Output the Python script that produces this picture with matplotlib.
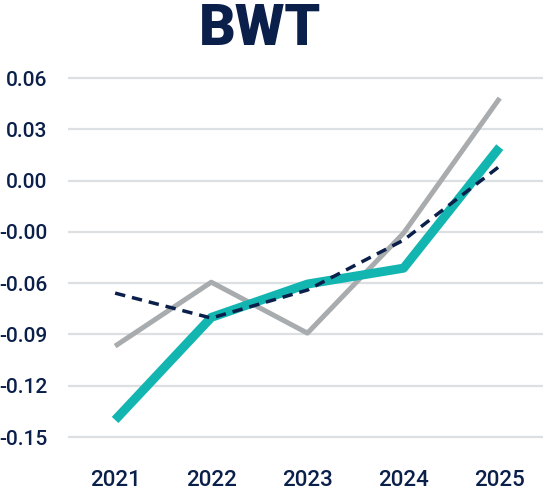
import matplotlib
matplotlib.use("Agg")
import matplotlib.pyplot as plt

years = [2021, 2022, 2023, 2024, 2025]
teal_vals = [-0.140, -0.080, -0.0605, -0.0512, 0.0196]
gray_vals = [-0.0968, -0.0594, -0.0892, -0.0307, 0.0483]
dash_vals = [-0.0658, -0.0804, -0.064, -0.0348, 0.0085]
y_ticks = [0.06, 0.03, 0.00, -0.03, -0.06, -0.09, -0.12, -0.15]
y_labels = ["0.06", "0.03", "0.00", "-0.00", "-0.06", "-0.09", "-0.12", "-0.15"]

NAVY = "#0b1f4b"
TEAL = "#13b5b1"
GRAY = "#a9acae"
GRID = "#dde0e3"

plt.rcParams["font.family"] = ["Roboto", "DejaVu Sans"]

fig = plt.figure(figsize=(5.43, 4.92), dpi=100)
ax = fig.add_axes([68 / 543, 0.1065, 1 - 68 / 543, 0.740])

ax.plot(years, gray_vals, color=GRAY, lw=3.6, solid_capstyle="butt", zorder=3)
ax.plot(years, teal_vals, color=TEAL, lw=6.5, solid_capstyle="butt", zorder=4)
ax.plot(years, dash_vals, color=NAVY, lw=2.5, dashes=(3, 2), zorder=5)

ax.set_xlim(2020.51, 2025.45)
ax.set_ylim(-0.1515, 0.0615)
ax.set_xticks(years)
ax.set_yticks(y_ticks)
ax.set_yticklabels(y_labels)
ax.grid(axis="y", color=GRID, lw=1.6)
ax.set_axisbelow(True)
for s in ax.spines.values():
    s.set_visible(False)
ax.tick_params(axis="both", length=0, labelcolor=NAVY)
ax.tick_params(axis="x", pad=22, labelsize=16)
ax.tick_params(axis="y", pad=15, labelsize=15)
for lab in ax.get_xticklabels() + ax.get_yticklabels():
    lab.set_fontweight("medium")

fig.text(260 / 543, 1 - 45 / 492, "BWT", ha="center", va="baseline",
         fontsize=41, fontweight="black", color=NAVY)

fig.savefig("out.png", dpi=100)
